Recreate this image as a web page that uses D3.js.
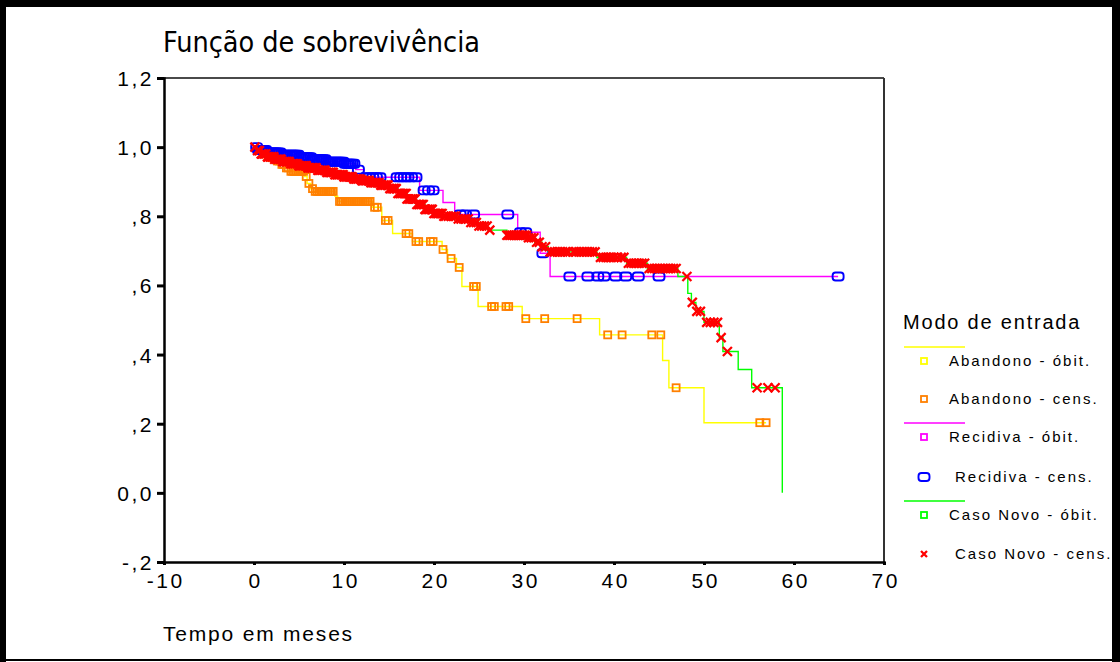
<!DOCTYPE html>
<html>
<head>
<meta charset="utf-8">
<script src="https://cdn.jsdelivr.net/npm/d3@7"></script>
<style>
  body { margin: 0; background: #fff; }
  svg { display: block; }
  .tick text { font-family: "Liberation Sans", Arial, sans-serif; }
</style>
</head>
<body>
<svg id="chart" width="1120" height="662"></svg>
<script>
// ---- data ----
// axis ticks
var xTickValues = [-10, 0, 10, 20, 30, 40, 50, 60, 70];
var yTickValues = [-0.2, 0, 0.2, 0.4, 0.6, 0.8, 1.0, 1.2];
var yTickLabels = ["-,2", "0,0", ",2", ",4", ",6", ",8", "1,0", "1,2"];

// Abandono: step times / survival after step, censored times
var abandonoTimes = [0, 0.6, 1.2, 1.8, 2.4, 3.0, 3.4, 4.0, 5.6, 5.9, 6.3, 6.6, 9.0, 9.3, 13.2, 14.2, 15.4, 17.6, 20.9, 21.5, 22.5, 23.1, 24.9, 29.8, 38.4, 45.4, 46.1, 50.0, 56.9];
var abandonoSurv  = [1, 0.99, 0.98, 0.97, 0.96, 0.95, 0.94, 0.93, 0.915, 0.895, 0.88, 0.872, 0.858, 0.843, 0.826, 0.788, 0.75, 0.727, 0.704, 0.678, 0.652, 0.597, 0.539, 0.504, 0.457, 0.383, 0.304, 0.203, 0.203];
var abandonoCens  = [0.9, 1.1, 1.4, 1.6, 1.9, 2.1, 2.3, 2.6, 2.8, 3.1, 3.3, 3.6, 3.8, 4.1, 4.3, 4.5, 4.7, 4.9, 5.1, 5.3, 5.5, 5.8, 6.1, 6.5, 6.8, 7.0, 7.2, 7.4, 7.6, 7.8, 8.0, 8.2, 8.4, 8.6, 8.8, 9.5, 9.7, 9.9, 10.1, 10.3, 10.5, 10.7, 10.9, 11.1, 11.3, 11.5, 11.7, 11.9, 12.1, 12.3, 12.5, 12.7, 12.9, 13.4, 13.7, 14.6, 14.9, 16.9, 17.2, 18.0, 18.3, 19.6, 19.9, 21.0, 21.9, 22.8, 24.4, 24.7, 26.4, 26.7, 28.0, 28.3, 30.2, 32.3, 35.9, 39.3, 40.9, 44.2, 45.2, 46.9, 56.2, 56.9];

// Recidiva
var recidivaTimes = [0, 0.5, 1.5, 3.0, 5.0, 6.5, 8.0, 10.0, 11.3, 12.2, 18.4, 21.0, 22.3, 29.3, 31.8, 32.9, 64.9];
var recidivaSurv  = [1, 0.992, 0.985, 0.978, 0.971, 0.965, 0.958, 0.952, 0.935, 0.913, 0.875, 0.84, 0.805, 0.754, 0.693, 0.626, 0.626];
var recidivaCens  = [0.3, 0.5, 0.7, 0.9, 1.1, 1.3, 1.5, 1.7, 1.9, 2.1, 2.3, 2.5, 2.7, 2.9, 3.1, 3.3, 3.5, 3.7, 3.9, 4.1, 4.3, 4.5, 4.7, 4.9, 5.1, 5.3, 5.5, 5.7, 5.9, 6.1, 6.3, 6.5, 6.7, 6.9, 7.1, 7.3, 7.5, 7.7, 7.9, 8.1, 8.3, 8.5, 8.7, 8.9, 9.1, 9.3, 9.5, 9.7, 9.9, 10.1, 10.3, 10.5, 10.7, 10.9, 11.1, 11.6, 12.4, 12.8, 13.2, 13.6, 14.0, 15.9, 16.3, 16.7, 17.1, 17.5, 18.0, 18.9, 19.4, 19.9, 22.9, 23.5, 24.4, 28.2, 29.6, 30.2, 32.1, 35.1, 37.1, 38.2, 38.9, 40.2, 41.3, 42.7, 45.0, 64.9];

// Caso Novo
var casoNovoTimes = [0, 0.3, 0.8, 1.5, 2.3, 3.2, 4.0, 5.0, 6.0, 7.0, 8.0, 9.0, 10.0, 11.0, 12.0, 13.0, 14.0, 15.0, 16.0, 17.0, 18.0, 19.0, 20.0, 21.0, 22.5, 24.0, 25.0, 26.0, 28.1, 30.5, 31.2, 32.0, 32.7, 38.1, 41.4, 43.7, 47.1, 48.2, 48.6, 49.1, 50.0, 51.7, 52.1, 53.8, 55.3, 58.7];
var casoNovoSurv  = [1, 0.99, 0.98, 0.972, 0.965, 0.958, 0.952, 0.946, 0.94, 0.933, 0.927, 0.92, 0.914, 0.908, 0.903, 0.897, 0.89, 0.88, 0.866, 0.85, 0.834, 0.82, 0.808, 0.80, 0.792, 0.782, 0.772, 0.76, 0.745, 0.738, 0.725, 0.712, 0.697, 0.681, 0.664, 0.649, 0.626, 0.577, 0.551, 0.525, 0.493, 0.449, 0.409, 0.357, 0.304, 0];
var casoNovoCens  = [0.1, 0.4, 0.6, 0.8, 0.9, 1.1, 1.3, 1.5, 1.6, 1.8, 2.0, 2.2, 2.3, 2.5, 2.7, 2.9, 3.0, 3.2, 3.4, 3.6, 3.7, 3.9, 4.1, 4.3, 4.4, 4.6, 4.8, 5.0, 5.1, 5.3, 5.5, 5.7, 5.8, 6.0, 6.2, 6.4, 6.5, 6.7, 6.9, 7.1, 7.2, 7.4, 7.6, 7.8, 7.9, 8.1, 8.3, 8.5, 8.6, 8.8, 9.0, 9.2, 9.3, 9.5, 9.7, 9.9, 10.0, 10.2, 10.4, 10.6, 10.7, 10.9, 11.1, 11.3, 11.4, 11.6, 11.8, 12.0, 12.1, 12.3, 12.5, 12.7, 12.8, 13.0, 13.2, 13.4, 13.5, 13.7, 13.9, 14.1, 14.2, 14.4, 14.6, 14.8, 14.9, 15.1, 15.3, 15.5, 15.6, 15.8, 16.0, 16.2, 16.3, 16.5, 16.7, 16.9, 17.0, 17.2, 17.4, 17.6, 17.7, 17.9, 18.1, 18.3, 18.4, 18.6, 18.8, 19.0, 19.1, 19.3, 19.5, 19.7, 19.8, 20.0, 20.2, 20.4, 20.5, 20.7, 20.9, 21.1, 21.3, 21.6, 21.9, 22.2, 22.4, 22.7, 23.0, 23.3, 23.5, 23.8, 24.1, 24.4, 24.7, 25.0, 25.3, 25.6, 25.9, 26.2, 28.1, 28.3, 28.5, 28.7, 28.9, 29.1, 29.3, 29.5, 29.7, 29.9, 30.1, 30.3, 30.5, 30.8, 31.1, 31.4, 31.7, 32.0, 32.4, 32.9, 33.1, 33.4, 33.7, 34.0, 34.3, 34.6, 34.9, 35.5, 35.8, 36.1, 36.4, 36.7, 37.0, 37.3, 37.6, 37.9, 38.5, 38.8, 39.1, 39.4, 39.7, 40.0, 40.4, 40.8, 41.1, 41.6, 41.9, 42.2, 42.5, 42.8, 43.1, 43.4, 43.9, 44.2, 44.5, 44.8, 45.1, 45.4, 45.7, 46.0, 46.3, 46.6, 46.9, 48.1, 48.7, 49.2, 49.6, 50.3, 50.7, 51.1, 51.5, 51.9, 52.6, 55.9, 57.1, 57.9];

var legendItems = [
  { label: "Abandono - óbit.",  color: "#ffff00", mark: "square", line: true },
  { label: "Abandono - cens.",  color: "#ff8000", mark: "square" },
  { label: "Recidiva - óbit.",  color: "#ff00ff", mark: "square", line: true },
  { label: "Recidiva - cens.",  color: "#0000ff", mark: "round" },
  { label: "Caso Novo - óbit.", color: "#00ff00", mark: "square", line: true },
  { label: "Caso Novo - cens.", color: "#ff0000", mark: "cross" }
];

var svg = d3.select("#chart");

// outer frame
svg.append("rect").attr("x", 0).attr("y", 0).attr("width", 1120).attr("height", 7).attr("fill", "#000");
svg.append("rect").attr("x", 0).attr("y", 0).attr("width", 6).attr("height", 662).attr("fill", "#000");
svg.append("rect").attr("x", 1112).attr("y", 0).attr("width", 8).attr("height", 662).attr("fill", "#000");
svg.append("rect").attr("x", 0).attr("y", 659).attr("width", 1120).attr("height", 2).attr("fill", "#000");

var x = d3.scaleLinear().domain([-10, 70]).range([164, 884]);
var y = d3.scaleLinear().domain([-0.2, 1.2]).range([562, 78]);

// plot box (top & right)
svg.append("line").attr("x1", x(-10)).attr("x2", x(70)).attr("y1", y(1.2)).attr("y2", y(1.2))
  .attr("stroke", "#4a4a4a").attr("stroke-width", 2);
svg.append("line").attr("x1", x(70)).attr("x2", x(70)).attr("y1", y(1.2)).attr("y2", y(-0.2))
  .attr("stroke", "#333").attr("stroke-width", 2);

// axes
var yAxis = svg.append("g").attr("transform", "translate(" + x(-10) + ",0)")
  .call(d3.axisLeft(y).tickValues(yTickValues).tickSize(7).tickPadding(3)
    .tickFormat(function(d, i) { return yTickLabels[i]; }));
var xAxis = svg.append("g").attr("transform", "translate(0," + y(-0.2) + ")")
  .call(d3.axisBottom(x).tickValues(xTickValues).tickSize(3).tickPadding(8)
    .tickFormat(function(d) { return d; }));

[yAxis, xAxis].forEach(function(a) {
  a.select(".domain").attr("stroke", "#000").attr("stroke-width", 2.5);
  a.selectAll(".tick line").attr("stroke", "#000").attr("stroke-width", 3);
  a.selectAll(".tick text").attr("fill", "#000").style("font-size", "21px").style("letter-spacing", "2.5px");
});
yAxis.selectAll(".tick text").attr("dy", "0.36em");
xAxis.selectAll(".tick text").attr("dx", "1.2px");

// titles
svg.append("text").attr("x", 163).attr("y", 52)
  .style("font-family", "'DejaVu Sans Condensed', 'DejaVu Sans', sans-serif").style("font-stretch", "condensed")
  .style("font-size", "28.5px")
  .text("Função de sobrevivência");
svg.append("text").attr("x", 163).attr("y", 641)
  .style("font-family", "'Liberation Sans', Arial, sans-serif").style("font-size", "21px").style("letter-spacing", "1.8px")
  .text("Tempo em meses");

// survival curves
function stepData(times, surv) {
  return times.map(function(t, i) { return [t, surv[i]]; });
}
function survAt(times, surv, t) {
  var i = d3.bisectRight(times, t) - 1;
  return surv[Math.max(i, 0)];
}

var line = d3.line()
  .x(function(d) { return x(d[0]); })
  .y(function(d) { return y(d[1]); })
  .curve(d3.curveStepAfter);

var groups = [
  { times: abandonoTimes, surv: abandonoSurv, cens: abandonoCens, lineColor: "#ffff00", markColor: "#ff8000", mark: "square" },
  { times: recidivaTimes, surv: recidivaSurv, cens: recidivaCens, lineColor: "#ff00ff", markColor: "#0000ff", mark: "round" },
  { times: casoNovoTimes, surv: casoNovoSurv, cens: casoNovoCens, lineColor: "#00ff00", markColor: "#ff0000", mark: "cross" }
];

function drawMark(sel, type, color, big) {
  if (type === "square") {
    var s = big ? 7 : 6;
    sel.append("rect").attr("x", -s / 2).attr("y", -s / 2).attr("width", s).attr("height", s)
      .attr("fill", "none").attr("stroke", color).attr("stroke-width", 1.8);
  } else if (type === "round") {
    sel.append("rect").attr("x", -5.5).attr("y", -4).attr("width", 11).attr("height", 8).attr("rx", 3)
      .attr("fill", "none").attr("stroke", color).attr("stroke-width", 1.9);
  } else {
    var c = big ? 4.5 : 3;
    sel.append("path").attr("d", "M" + (-c) + "," + (-c) + "L" + c + "," + c + "M" + (-c) + "," + c + "L" + c + "," + (-c))
      .attr("stroke", color).attr("stroke-width", 2.3).attr("fill", "none");
  }
}

groups.forEach(function(g) {
  svg.append("path").datum(stepData(g.times, g.surv))
    .attr("d", line).attr("fill", "none").attr("stroke", g.lineColor).attr("stroke-width", 1.4);

  svg.append("g").selectAll("g").data(g.cens).enter().append("g")
    .attr("transform", function(t) { return "translate(" + x(t) + "," + y(survAt(g.times, g.surv, t)) + ")"; })
    .each(function() { drawMark(d3.select(this), g.mark, g.markColor, true); });
});

// legend
var legend = svg.append("g");
legend.append("text").attr("x", 903).attr("y", 329)
  .style("font-family", "'Liberation Sans', Arial, sans-serif").style("font-size", "20px").style("letter-spacing", "1.8px")
  .text("Modo de entrada");

var rowY = [361, 399, 437, 477, 515, 554];
legendItems.forEach(function(it, i) {
  if (it.line) {
    legend.append("line").attr("x1", 904).attr("x2", 965).attr("y1", rowY[i] - 14).attr("y2", rowY[i] - 14)
      .attr("stroke", it.color).attr("stroke-width", 1.4);
  }
  var m = legend.append("g").attr("transform", "translate(924," + rowY[i] + ")");
  drawMark(m, it.mark, it.color, false);
  legend.append("text").attr("x", it.mark === "square" ? 949 : 955).attr("y", rowY[i] + 5)
    .style("font-family", "'Liberation Sans', Arial, sans-serif").style("font-size", "15px").style("letter-spacing", "2px")
    .text(it.label);
});
</script>
</body>
</html>
